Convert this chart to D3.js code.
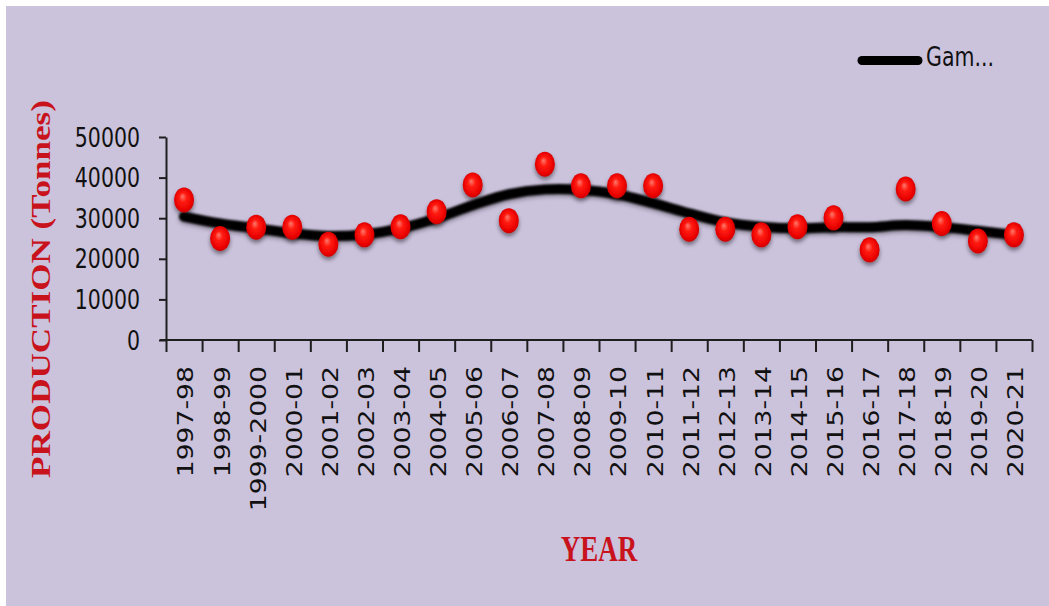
<!DOCTYPE html>
<html>
<head>
<meta charset="utf-8">
<script src="https://cdn.jsdelivr.net/npm/d3@7"></script>
<style>
  html, body { margin: 0; padding: 0; background: #ffffff; }
  svg { display: block; }
</style>
</head>
<body>
<svg id="chart" width="1049" height="606"></svg>
<script>
// Seasons on the x axis
const categories = [
  "1997-98", "1998-99", "1999-2000", "2000-01", "2001-02", "2002-03",
  "2003-04", "2004-05", "2005-06", "2006-07", "2007-08", "2008-09",
  "2009-10", "2010-11", "2011-12", "2012-13", "2013-14", "2014-15",
  "2015-16", "2016-17", "2017-18", "2018-19", "2019-20", "2020-21"
];

// Observed production (tonnes)
const production = [
  34500, 25000, 27800, 27800, 23600, 25900,
  27900, 31600, 38200, 29400, 43300, 38000,
  38000, 38000, 27300, 27300, 25900, 27900,
  30100, 22200, 37200, 28700, 24400, 25900
];

// Smoothed (GAM) trend of production (tonnes)
const gamTrend = [
  30400, 28700, 27500, 26300, 25600, 26000,
  27500, 30000, 33200, 35900, 37100, 37000,
  35900, 33700, 31200, 29000, 27900, 27500,
  27800, 27800, 28300, 27800, 26900, 25900
];

const yTicks = [0, 10000, 20000, 30000, 40000, 50000];
const legendLabel = "Gam...";

const W = 1049, H = 606;
const plotLeft = 166, plotRight = 1032, plotTop = 137, plotBottom = 340;
const stretch = 1.3;

const svg = d3.select("#chart");

// Defs: marker shading, shadows
const defs = svg.append("defs");
const grad = defs.append("radialGradient")
  .attr("id", "ball").attr("cx", "50%").attr("cy", "50%").attr("r", "55%")
  .attr("fx", "42%").attr("fy", "35%");
grad.append("stop").attr("offset", "0%").attr("stop-color", "#ff7a6e");
grad.append("stop").attr("offset", "35%").attr("stop-color", "#ff1a10");
grad.append("stop").attr("offset", "80%").attr("stop-color", "#e80000");
grad.append("stop").attr("offset", "100%").attr("stop-color", "#b40000");

const shadow = defs.append("filter").attr("id", "shadow")
  .attr("x", "-50%").attr("y", "-50%").attr("width", "200%").attr("height", "200%");
shadow.append("feDropShadow").attr("dx", 0).attr("dy", 3)
  .attr("stdDeviation", 2).attr("flood-color", "#000").attr("flood-opacity", 0.45);

const lineFx = defs.append("filter").attr("id", "lineFx")
  .attr("x", "-10%").attr("y", "-50%").attr("width", "120%").attr("height", "200%");
lineFx.append("feGaussianBlur").attr("in", "SourceGraphic").attr("stdDeviation", 0.9).attr("result", "b");
lineFx.append("feDropShadow").attr("in", "b").attr("dx", 0).attr("dy", 2)
  .attr("stdDeviation", 2).attr("flood-color", "#000").attr("flood-opacity", 0.4);

// Panel background
svg.append("rect").attr("x", 6).attr("y", 6).attr("width", W - 6).attr("height", H - 6)
  .attr("fill", "#cbc2dc");

// Scales
const x = d3.scaleBand().domain(categories).range([plotLeft, plotRight]);
const xEdge = d3.scaleLinear().domain([0, categories.length]).range([plotLeft, plotRight]);
const y = d3.scaleLinear().domain([0, 50000]).range([plotBottom, plotTop]);

const axisColor = "#1e1e1e";
const tickFont = "'DejaVu Sans', Verdana, sans-serif";

// Y axis
const yAxis = svg.append("g").attr("transform", `translate(${plotLeft},0)`)
  .call(d3.axisLeft(y).tickValues(yTicks).tickSize(7).tickSizeOuter(0).tickPadding(19)
    .tickFormat(d3.format("d")));
yAxis.select(".domain").attr("stroke", axisColor).attr("stroke-width", 2);
yAxis.selectAll(".tick line").attr("stroke", axisColor).attr("stroke-width", 2);
yAxis.selectAll(".tick text")
  .attr("font-family", tickFont).attr("font-size", 20.5).attr("fill", "#111")
  .attr("dy", null).attr("y", 0)
  .attr("transform", `scale(1,${stretch}) translate(0,7)`);

// X axis: boundary ticks
const xTicksAxis = svg.append("g").attr("transform", `translate(0,${plotBottom})`)
  .call(d3.axisBottom(xEdge).tickValues(d3.range(categories.length + 1))
    .tickSize(12).tickSizeOuter(0).tickFormat(""));
xTicksAxis.select(".domain").attr("stroke", axisColor).attr("stroke-width", 2)
  .attr("d", `M${plotLeft - 6},0H${plotRight}`);
xTicksAxis.selectAll(".tick line").attr("stroke", axisColor).attr("stroke-width", 2);

// X axis: category labels
const xLabels = svg.append("g").attr("transform", `translate(0,${plotBottom})`)
  .call(d3.axisBottom(x).tickSize(0).tickSizeOuter(0));
xLabels.select(".domain").remove();
xLabels.selectAll(".tick text")
  .attr("font-family", tickFont).attr("font-size", 20.5).attr("fill", "#111")
  .attr("x", 0).attr("y", 0).attr("dy", "0.36em")
  .attr("text-anchor", "end")
  .attr("transform", `translate(2,26) rotate(-90) scale(${stretch},1)`);

// GAM trend line
const line = d3.line()
  .x((d, i) => x(categories[i]) + x.bandwidth() / 2)
  .y(d => y(d))
  .curve(d3.curveCatmullRom.alpha(0.5));
svg.append("path").datum(gamTrend)
  .attr("d", line)
  .attr("fill", "none").attr("stroke", "#000").attr("stroke-width", 10)
  .attr("stroke-linecap", "round").attr("stroke-linejoin", "round")
  .attr("filter", "url(#lineFx)");

// Observed points
svg.append("g").selectAll("ellipse").data(production).join("ellipse")
  .attr("cx", (d, i) => x(categories[i]) + x.bandwidth() / 2)
  .attr("cy", d => y(d))
  .attr("rx", 10).attr("ry", 12.5)
  .attr("fill", "url(#ball)")
  .attr("filter", "url(#shadow)");

// Axis titles
const titleRed = "#c8121c";
const titleFont = "'Liberation Serif', 'Times New Roman', serif";
svg.append("text")
  .attr("transform", `translate(50,289) rotate(-90) scale(${stretch},1)`)
  .attr("text-anchor", "middle")
  .attr("font-family", titleFont).attr("font-weight", "bold").attr("font-size", 27)
  .attr("fill", titleRed)
  .text("PRODUCTION (Tonnes)");

svg.append("text")
  .attr("transform", `translate(${(plotLeft + plotRight) / 2},561) scale(1,${stretch})`)
  .attr("text-anchor", "middle")
  .attr("font-family", titleFont).attr("font-weight", "bold").attr("font-size", 27)
  .attr("fill", titleRed)
  .text("YEAR");

// Legend
const legend = svg.append("g");
legend.append("line")
  .attr("x1", 862).attr("x2", 918).attr("y1", 60.5).attr("y2", 60.5)
  .attr("stroke", "#000").attr("stroke-width", 9).attr("stroke-linecap", "round");
legend.append("text")
  .attr("transform", `translate(926,66) scale(1,${stretch})`)
  .attr("font-family", tickFont).attr("font-size", 20.5).attr("fill", "#111")
  .text(legendLabel);
</script>
</body>
</html>
